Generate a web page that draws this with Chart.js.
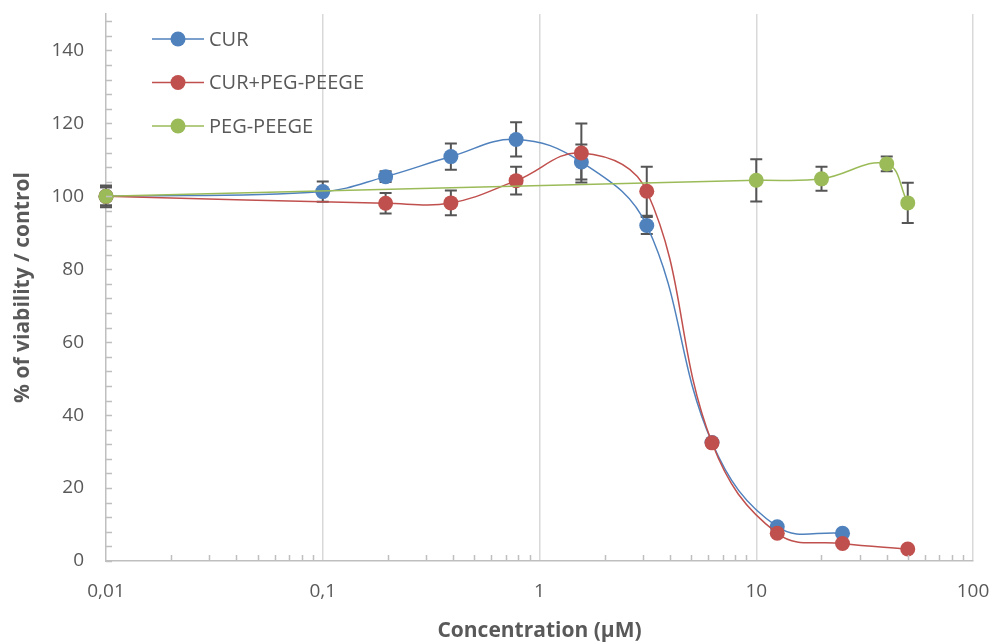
<!DOCTYPE html>
<html>
<head>
<meta charset="utf-8">
<script src="https://cdn.jsdelivr.net/npm/chart.js@4"></script>
<style>
  html, body { margin: 0; padding: 0; background: #fff; }
  #wrap { width: 993px; height: 644px; }
</style>
</head>
<body>
<div id="wrap"><canvas id="chart-viability" width="993" height="644"></canvas></div>
<script>
// concentrations (µM) and % viability
const concCur = [0.01, 0.1, 0.195, 0.39, 0.78, 1.56, 3.125, 6.25, 12.5, 25];
const viabCur = [100, 101.3, 105.4, 110.9, 115.6, 109.4, 92, 32.5, 9.4, 7.6];
const errCur  = [2.5, 2.8, 1.5, 3.6, 4.7, 4.8, 2.3, 0.5, 0.5, 0.5];

const concMix = [0.01, 0.195, 0.39, 0.78, 1.56, 3.125, 6.25, 12.5, 25, 50];
const viabMix = [100, 98.1, 98.2, 104.3, 111.9, 101.4, 32.4, 7.6, 4.8, 3.3];
const errMix  = [2.5, 2.8, 3.4, 3.8, 8.1, 6.7, 0.8, 0.5, 0.5, 0.5];

const concPeg = [0.01, 10, 20, 40, 50];
const viabPeg = [100, 104.4, 104.8, 108.9, 98.2];
const errPeg  = [3, 5.8, 3.3, 2, 5.5];

const seriesNames = ['CUR', 'CUR+PEG-PEEGE', 'PEG-PEEGE'];
const seriesColors = ['#4F81BD', '#C0504D', '#9BBB59'];

const xDecades = [0.01, 0.1, 1, 10, 100];
const yTicks = [0, 20, 40, 60, 80, 100, 120, 140];

const FONT = '"Open Sans", Lato, sans-serif';
const GREY = '#595959';

function toPoints(xs, ys) {
  return xs.map((x, i) => ({x: x, y: ys[i]}));
}

// all 1..9 x 10^k ticks, only decades get a label / gridline
let xAllTicks = [];
for (let d of xDecades.slice(0, -1)) {
  for (let m = 1; m < 10; m++) xAllTicks.push(+(d * m).toPrecision(3));
}
xAllTicks.push(100);
const isDecade = v => xDecades.some(d => Math.abs(d - v) < 1e-9);

// error bars (drawn under markers)
const errorBars = {
  id: 'errorBars',
  beforeDatasetsDraw(chart) {
    const ctx = chart.ctx;
    const xs = chart.scales.x, ys = chart.scales.y;
    ctx.save();
    ctx.strokeStyle = '#555555';
    ctx.lineWidth = 2;
    chart.data.datasets.forEach(ds => {
      ds.data.forEach((p, i) => {
        const e = ds.errors[i];
        if (!e) return;
        const px = xs.getPixelForValue(p.x);
        const top = ys.getPixelForValue(p.y + e);
        const bot = ys.getPixelForValue(p.y - e);
        ctx.beginPath();
        ctx.moveTo(px, top); ctx.lineTo(px, bot);
        ctx.moveTo(px - 6, top); ctx.lineTo(px + 6, top);
        ctx.moveTo(px - 6, bot); ctx.lineTo(px + 6, bot);
        ctx.stroke();
      });
    });
    ctx.restore();
  }
};

// minor tick marks, pointing inward like the Excel original
const minorTicks = {
  id: 'minorTicks',
  afterDraw(chart) {
    const ctx = chart.ctx;
    const xs = chart.scales.x, ys = chart.scales.y;
    const a = chart.chartArea;
    ctx.save();
    ctx.strokeStyle = '#BFBFBF';
    ctx.lineWidth = 1.5;
    ctx.beginPath();
    xAllTicks.forEach(v => {
      if (isDecade(v)) return;
      const px = Math.round(xs.getPixelForValue(v)) + 0.5;
      ctx.moveTo(px, a.bottom); ctx.lineTo(px, a.bottom - 6);
    });
    for (let v = 0; v <= 150; v += 4) {
      const py = Math.round(ys.getPixelForValue(v)) + 0.5;
      ctx.moveTo(a.left, py); ctx.lineTo(a.left + 6, py);
    }
    ctx.stroke();
    ctx.restore();
  }
};

// legend inside the plot, top left
const insideLegend = {
  id: 'insideLegend',
  afterDraw(chart) {
    const ctx = chart.ctx;
    const a = chart.chartArea;
    ctx.save();
    ctx.font = '20px ' + FONT;
    ctx.textBaseline = 'middle';
    ctx.textAlign = 'left';
    seriesNames.forEach((name, i) => {
      const y = 39 + i * 43.5;
      const x0 = a.left + 46;
      ctx.strokeStyle = seriesColors[i];
      ctx.lineWidth = 1.5;
      ctx.beginPath(); ctx.moveTo(x0, y); ctx.lineTo(x0 + 52, y); ctx.stroke();
      ctx.fillStyle = seriesColors[i];
      ctx.beginPath(); ctx.arc(x0 + 26, y, 7.5, 0, Math.PI * 2); ctx.fill();
      ctx.fillStyle = GREY;
      ctx.fillText(name, x0 + 57, y + 1);
    });
    ctx.restore();
  }
};

function makeDataset(i, xs, ys, errs, order) {
  return {
    label: seriesNames[i],
    data: toPoints(xs, ys),
    errors: errs,
    borderColor: seriesColors[i],
    backgroundColor: seriesColors[i],
    borderWidth: 1.5,
    pointRadius: 7.5,
    pointBorderWidth: 0,
    pointHoverRadius: 7.5,
    tension: 0.4,
    clip: false,
    order: order
  };
}

new Chart(document.getElementById('chart-viability'), {
  type: 'line',
  data: {
    datasets: [
      makeDataset(0, concCur, viabCur, errCur, 2),
      makeDataset(1, concMix, viabMix, errMix, 1),
      makeDataset(2, concPeg, viabPeg, errPeg, 0)
    ]
  },
  options: {
    responsive: false,
    animation: false,
    layout: { padding: { left: 0, right: 20, top: 14, bottom: 0 } },
    plugins: { legend: { display: false }, tooltip: { enabled: false } },
    scales: {
      x: {
        type: 'logarithmic',
        min: 0.01,
        max: 100,
        afterBuildTicks: s => { s.ticks = xAllTicks.map(v => ({value: v})); },
        afterFit: s => { s.height = 83; s.paddingLeft = 0; s.paddingRight = 0; },
        ticks: {
          autoSkip: false,
          maxRotation: 0,
          padding: 19,
          color: GREY,
          font: { family: FONT, size: 19 },
          callback: v => isDecade(v) ? String(v).replace('.', ',') : ''
        },
        grid: {
          drawTicks: false,
          lineWidth: 1.5,
          color: c => (c.tick && isDecade(c.tick.value) && c.tick.value !== 0.01) ? '#D9D9D9' : 'rgba(0,0,0,0)'
        },
        border: { display: true, color: '#BFBFBF', width: 1.5 },
        title: {
          display: true,
          text: 'Concentration (µM)',
          color: GREY,
          font: { family: FONT, size: 21, weight: 'bold' },
          padding: { top: 0, bottom: 0 }
        }
      },
      y: {
        min: 0,
        max: 150,
        afterBuildTicks: s => { s.ticks = yTicks.map(v => ({value: v})); },
        afterFit: s => { s.width = 106; s.paddingTop = 0; s.paddingBottom = 0; },
        ticks: {
          padding: 22,
          color: GREY,
          font: { family: FONT, size: 19 }
        },
        grid: { drawTicks: false, color: 'rgba(0,0,0,0)' },
        border: { display: true, color: '#BFBFBF', width: 1.5 },
        title: {
          display: true,
          text: '% of viability / control',
          color: GREY,
          font: { family: FONT, size: 21, weight: 'bold' },
          padding: { top: 10, bottom: 0 }
        }
      }
    }
  },
  plugins: [errorBars, minorTicks, insideLegend]
});
</script>
</body>
</html>
